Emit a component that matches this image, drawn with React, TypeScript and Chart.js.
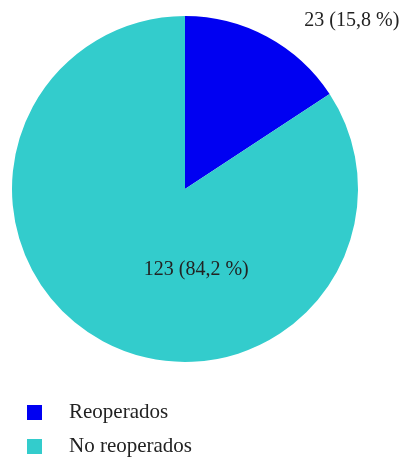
import React, { useEffect, useRef } from "react";
import { Chart, registerables } from "chart.js";

Chart.register(...registerables);

const categories = ["Reoperados", "No reoperados"];
const counts = [23, 123];
const percentLabels = ["15,8", "84,2"];
const colors = ["#0000F2", "#33CCCC"];

const FONT = '"Liberation Serif", "Times New Roman", serif';

const labelsPlugin = {
  id: "customLabels",
  afterDraw(chart: any) {
    const ctx = chart.ctx;
    const meta = chart.getDatasetMeta(0);
    const arc0 = meta.data[0];
    if (!arc0) return;
    const cx = arc0.x;
    const cy = arc0.y;
    const r = arc0.outerRadius;
    ctx.save();
    ctx.fillStyle = "#222222";
    ctx.font = `20px ${FONT}`;
    ctx.textBaseline = "alphabetic";
    // small slice label outside top-right
    ctx.textAlign = "left";
    ctx.fillText(`${counts[0]} (${percentLabels[0]} %)`, cx + r * 0.69, cy - r * 0.94);
    // large slice label inside
    ctx.textAlign = "center";
    ctx.fillText(`${counts[1]} (${percentLabels[1]} %)`, cx + r * 0.065, cy + r * 0.495);

    // legend
    const lx = 27;
    const sq = 15;
    const rows = [405, 439];
    ctx.textAlign = "left";
    ctx.font = `21px ${FONT}`;
    categories.forEach((c, i) => {
      ctx.fillStyle = colors[i];
      ctx.fillRect(lx, rows[i], sq, sq);
      ctx.fillStyle = "#222222";
      ctx.fillText(c, 69, rows[i] + 13);
    });
    ctx.restore();
  },
};

export default function App() {
  const ref = useRef<HTMLCanvasElement>(null);
  useEffect(() => {
    if (!ref.current) return;
    const chart = new Chart(ref.current, {
      type: "pie",
      data: {
        labels: categories,
        datasets: [
          {
            data: counts,
            backgroundColor: colors,
            borderWidth: 0,
          },
        ],
      },
      options: {
        responsive: false,
        animation: false,
        layout: { padding: { left: 12, right: 48, top: 16, bottom: 95 } },
        plugins: {
          legend: { display: false },
          tooltip: { enabled: false },
          title: { display: false },
        },
      },
      plugins: [labelsPlugin],
    });
    return () => chart.destroy();
  }, []);
  return (
    <div style={{ position: "absolute", left: 0, top: 0, width: 406, height: 457, background: "#fff" }}>
      <canvas ref={ref} width={406} height={457} style={{ width: 406, height: 457, display: "block" }} />
    </div>
  );
}
